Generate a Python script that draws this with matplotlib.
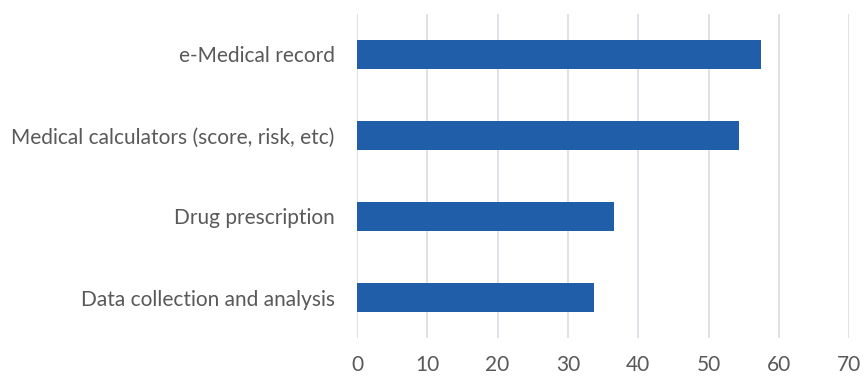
import matplotlib.pyplot as plt

# Survey categories, bottom to top as drawn
categories = [
    "Data collection and analysis",
    "Drug prescription",
    "Medical calculators (score, risk, etc)",
    "e-Medical record",
]
values = [33.7, 36.6, 54.3, 57.4]
x_ticks = [0, 10, 20, 30, 40, 50, 60, 70]

plt.rcParams['font.family'] = ['Lato', 'DejaVu Sans']

fig = plt.figure(figsize=(8.65, 3.76), dpi=100)
ax = fig.add_axes([0.4127, 0.101, 0.569, 0.862])

ax.barh(range(len(categories)), values, height=0.36, color='#205EAA', zorder=3)

ax.set_xlim(0, 70)
ax.set_ylim(-0.5, len(categories) - 0.5)
ax.set_xticks(x_ticks)
ax.set_yticks(range(len(categories)))
ax.set_yticklabels(categories)

ax.grid(axis='x', color='#D9DCE1', linewidth=1.2, zorder=0)
for side in ax.spines.values():
    side.set_visible(False)

ax.tick_params(axis='both', length=0, labelcolor='#595959', labelsize=15)
ax.tick_params(axis='x', pad=12)
ax.tick_params(axis='y', pad=16)

fig.savefig('out.png', dpi=100)
